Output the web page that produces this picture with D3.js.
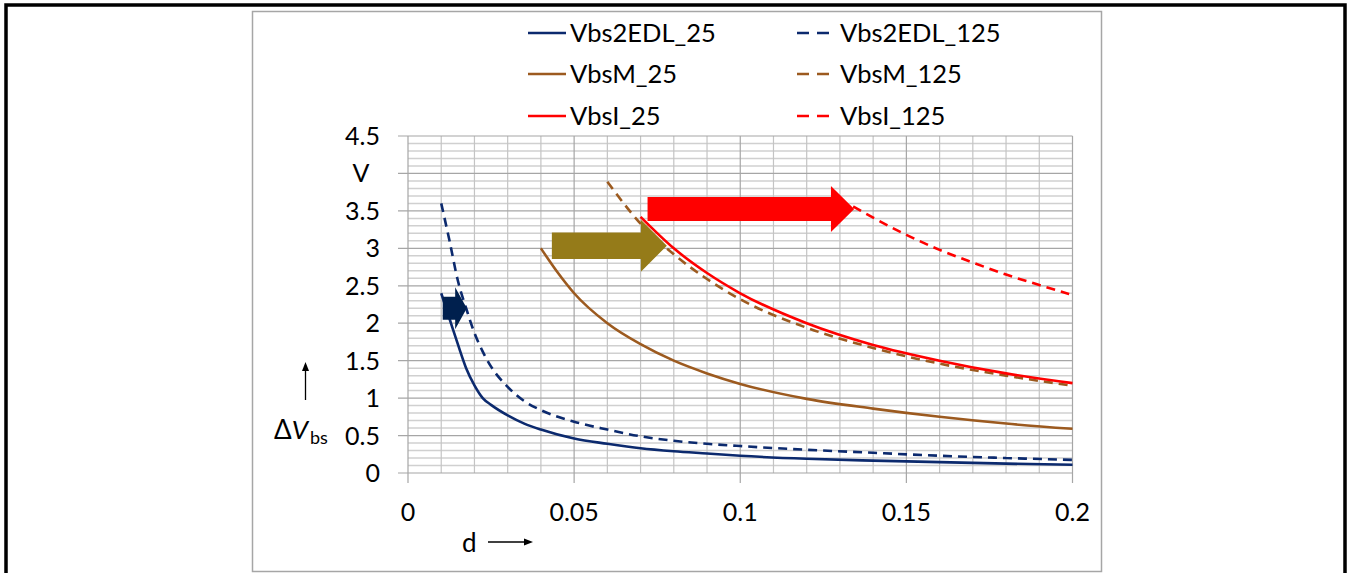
<!DOCTYPE html>
<html lang="en">
<head>
    <meta charset="UTF-8">
    <title>Delta Vbs vs d</title>
    <style>
        body, html {
            margin: 0;
            padding: 0;
            background-color: #ffffff;
            overflow: hidden;
        }

        svg {
            font-family: Lato, "Open Sans", sans-serif;
        }

        .tick-label {
            font-size: 25px;
            fill: #000;
        }

        .legend text {
            font-size: 25.5px;
            fill: #000;
        }
    </style>
</head>
<body>
    <div id="chart"></div>

    <script src="https://d3js.org/d3.v7.min.js"></script>

    <script>
        // d values and read-off Delta Vbs (V) for each curve
        const dEDL = [0.01, 0.0125, 0.015, 0.0175, 0.02, 0.0225, 0.025, 0.03, 0.035, 0.04, 0.05,
                      0.06, 0.07, 0.08, 0.09, 0.1, 0.12, 0.14, 0.16, 0.18, 0.2];
        const vbs2EDL25  = [2.40, 2.06, 1.72, 1.40, 1.17, 1.00, 0.91, 0.77, 0.66, 0.58, 0.46,
                            0.39, 0.33, 0.29, 0.26, 0.23, 0.19, 0.165, 0.145, 0.125, 0.11];
        const vbs2EDL125 = [3.60, 3.10, 2.57, 2.20, 1.87, 1.62, 1.42, 1.15, 0.96, 0.84, 0.685,
                            0.58, 0.49, 0.43, 0.39, 0.36, 0.31, 0.27, 0.23, 0.20, 0.175];

        const dM25 = [0.04, 0.045, 0.05, 0.06, 0.07, 0.08, 0.09, 0.1, 0.12, 0.14, 0.16, 0.18, 0.2];
        const vbsM25 = [3.0, 2.68, 2.40, 2.0, 1.72, 1.50, 1.33, 1.19, 0.99, 0.86, 0.75, 0.66, 0.59];

        const dM125 = [0.06, 0.07, 0.08, 0.09, 0.1, 0.12, 0.14, 0.16, 0.18, 0.2];
        const vbsM125 = [3.89, 3.33, 2.92, 2.59, 2.32, 1.94, 1.67, 1.46, 1.30, 1.165];

        const dI25 = [0.07, 0.08, 0.09, 0.1, 0.12, 0.14, 0.16, 0.18, 0.2];
        const vbsI25 = [3.42, 3.0, 2.67, 2.40, 2.0, 1.71, 1.50, 1.33, 1.20];

        const dI125 = [0.134, 0.14, 0.15, 0.16, 0.17, 0.18, 0.19, 0.199];
        const vbsI125 = [3.56, 3.41, 3.18, 2.98, 2.81, 2.65, 2.51, 2.39];

        const xTicks = [0, 0.05, 0.1, 0.15, 0.2];
        const xTickLabels = ["0", "0.05", "0.1", "0.15", "0.2"];
        const yTicks = [0, 0.5, 1, 1.5, 2, 2.5, 3, 3.5, 4, 4.5];
        const yTickLabels = ["0", "0.5", "1", "1.5", "2", "2.5", "3", "3.5", "V", "4.5"];

        // shift arrows: start d, head start d, tip d, level V
        const arrowStart = [0.01045, 0.0433, 0.0721];
        const arrowHead  = [0.0142, 0.0701, 0.1273];
        const arrowTip   = [0.0177, 0.0779, 0.1343];
        const arrowLevel = [2.20, 3.035, 3.525];

        const series = [
            { name: "Vbs2EDL_25",  d: dEDL,  v: vbs2EDL25,  color: "#0c2a6e", dash: null },
            { name: "Vbs2EDL_125", d: dEDL,  v: vbs2EDL125, color: "#0c2a6e", dash: "9,6" },
            { name: "VbsM_25",     d: dM25,  v: vbsM25,     color: "#9c5a1f", dash: null },
            { name: "VbsM_125",    d: dM125, v: vbsM125,    color: "#9c5a1f", dash: "9,6" },
            { name: "VbsI_25",     d: dI25,  v: vbsI25,     color: "#ff0000", dash: null },
            { name: "VbsI_125",    d: dI125, v: vbsI125,    color: "#ff0000", dash: "9,6" }
        ];

        const arrowStyle = [
            { color: "#00204e", body: 11.5, head: 21 },
            { color: "#957b19", body: 13.3, head: 26 },
            { color: "#ff0000", body: 12, head: 23 }
        ];

        const W = 1351, H = 573;

        const svg = d3.select("#chart").append("svg")
            .attr("width", W)
            .attr("height", H);

        // outer frame + chart frame
        svg.append("rect")
            .attr("x", 6).attr("y", 5)
            .attr("width", 1339).attr("height", 600)
            .attr("fill", "none")
            .attr("stroke", "#000")
            .attr("stroke-width", 3.5);

        svg.append("rect")
            .attr("x", 252.5).attr("y", 11.5)
            .attr("width", 849).attr("height", 560)
            .attr("fill", "#fff")
            .attr("stroke", "#a6a6a6")
            .attr("stroke-width", 1.5);

        const x = d3.scaleLinear().domain([0, 0.2]).range([408, 1072.5]);
        const y = d3.scaleLinear().domain([0, 4.5]).range([473, 136]);

        const grid = svg.append("g");

        // horizontal gridlines: minor every 0.1, major every 0.5
        const yMinor = d3.range(0, 46).map(i => i / 10);
        grid.selectAll("line.hminor")
            .data(yMinor.filter(v => Math.round(v * 10) % 5 !== 0))
            .enter().append("line")
            .attr("x1", x(0)).attr("x2", x(0.2))
            .attr("y1", d => y(d)).attr("y2", d => y(d))
            .attr("stroke", "#d0d0d0")
            .attr("stroke-width", 1.5);

        // vertical gridlines every 0.01
        const xMinor = d3.range(0, 21).map(i => i / 100);
        grid.selectAll("line.vgrid")
            .data(xMinor)
            .enter().append("line")
            .attr("x1", d => x(d)).attr("x2", d => x(d))
            .attr("y1", y(4.5))
            .attr("y2", (d, i) => i % 5 === 0 ? y(0) + 10 : y(0))
            .attr("stroke", (d, i) => i % 5 === 0 ? "#a6a6a6" : "#c4c4c4")
            .attr("stroke-width", 1.2);

        grid.selectAll("line.hmajor")
            .data(yTicks)
            .enter().append("line")
            .attr("x1", x(0) - 10).attr("x2", x(0.2))
            .attr("y1", d => y(d)).attr("y2", d => y(d))
            .attr("stroke", "#a6a6a6")
            .attr("stroke-width", 1.2);

        // tick labels
        svg.selectAll("text.ytick")
            .data(yTicks)
            .enter().append("text")
            .attr("class", "tick-label")
            .attr("x", (d, i) => yTickLabels[i] === "V" ? 361 : 380)
            .attr("y", d => y(d))
            .attr("dy", "0.36em")
            .attr("text-anchor", (d, i) => yTickLabels[i] === "V" ? "middle" : "end")
            .text((d, i) => yTickLabels[i]);

        svg.selectAll("text.xtick")
            .data(xTicks)
            .enter().append("text")
            .attr("class", "tick-label")
            .attr("x", d => x(d))
            .attr("y", 521)
            .attr("text-anchor", "middle")
            .text((d, i) => xTickLabels[i]);

        // axis titles
        svg.append("text")
            .attr("x", 462).attr("y", 552)
            .attr("font-size", 26)
            .text("d");
        svg.append("line")
            .attr("x1", 488).attr("x2", 528)
            .attr("y1", 542).attr("y2", 542)
            .attr("stroke", "#000").attr("stroke-width", 1.3);
        svg.append("path")
            .attr("d", "M533,542 L524,538.5 L524,545.5 Z")
            .attr("fill", "#000");

        svg.append("line")
            .attr("x1", 305.5).attr("x2", 305.5)
            .attr("y1", 400).attr("y2", 368)
            .attr("stroke", "#000").attr("stroke-width", 1.3);
        svg.append("path")
            .attr("d", "M305.5,362 L302,371 L309,371 Z")
            .attr("fill", "#000");

        const yt = svg.append("text")
            .attr("x", 274).attr("y", 439)
            .attr("font-size", 26);
        yt.append("tspan").text("\u0394");
        yt.append("tspan").attr("font-style", "italic").text("V");
        yt.append("tspan").attr("font-size", 18).attr("dy", 5).attr("dx", 2).text("bs");

        // curves
        const line = d3.line()
            .x(p => x(p[0]))
            .y(p => y(p[1]))
            .curve(d3.curveMonotoneX);

        svg.append("g").selectAll("path")
            .data(series)
            .enter().append("path")
            .attr("d", s => line(s.d.map((dv, i) => [dv, s.v[i]])))
            .attr("fill", "none")
            .attr("stroke", s => s.color)
            .attr("stroke-width", 2.6)
            .attr("stroke-dasharray", s => s.dash);

        // block arrows
        svg.append("g").selectAll("path")
            .data(arrowLevel)
            .enter().append("path")
            .attr("d", (lv, i) => {
                const x0 = x(arrowStart[i]), xh = x(arrowHead[i]), xt = x(arrowTip[i]);
                const yc = y(lv), b = arrowStyle[i].body, h = arrowStyle[i].head;
                return `M${x0},${yc - b} L${xh},${yc - b} L${xh},${yc - h} L${xt},${yc} ` +
                       `L${xh},${yc + h} L${xh},${yc + b} L${x0},${yc + b} Z`;
            })
            .attr("fill", (lv, i) => arrowStyle[i].color);

        // legend: two columns, three rows
        const legend = svg.append("g").attr("class", "legend");
        const rowY = [33, 74, 116];
        const item = legend.selectAll("g")
            .data(series)
            .enter().append("g")
            .attr("transform", (s, i) => {
                const col = i % 2, row = Math.floor(i / 2);
                return `translate(${col === 0 ? 528 : 797},${rowY[row]})`;
            });

        item.append("line")
            .attr("x1", 0)
            .attr("x2", (s, i) => i % 2 === 0 ? 38 : 32)
            .attr("y1", 0).attr("y2", 0)
            .attr("stroke", s => s.color)
            .attr("stroke-width", 2.6)
            .attr("stroke-dasharray", s => s.dash ? "12,8" : null);

        item.append("text")
            .attr("x", (s, i) => i % 2 === 0 ? 42 : 43)
            .attr("dy", "0.35em")
            .text(s => s.name);
    </script>
</body>
</html>
